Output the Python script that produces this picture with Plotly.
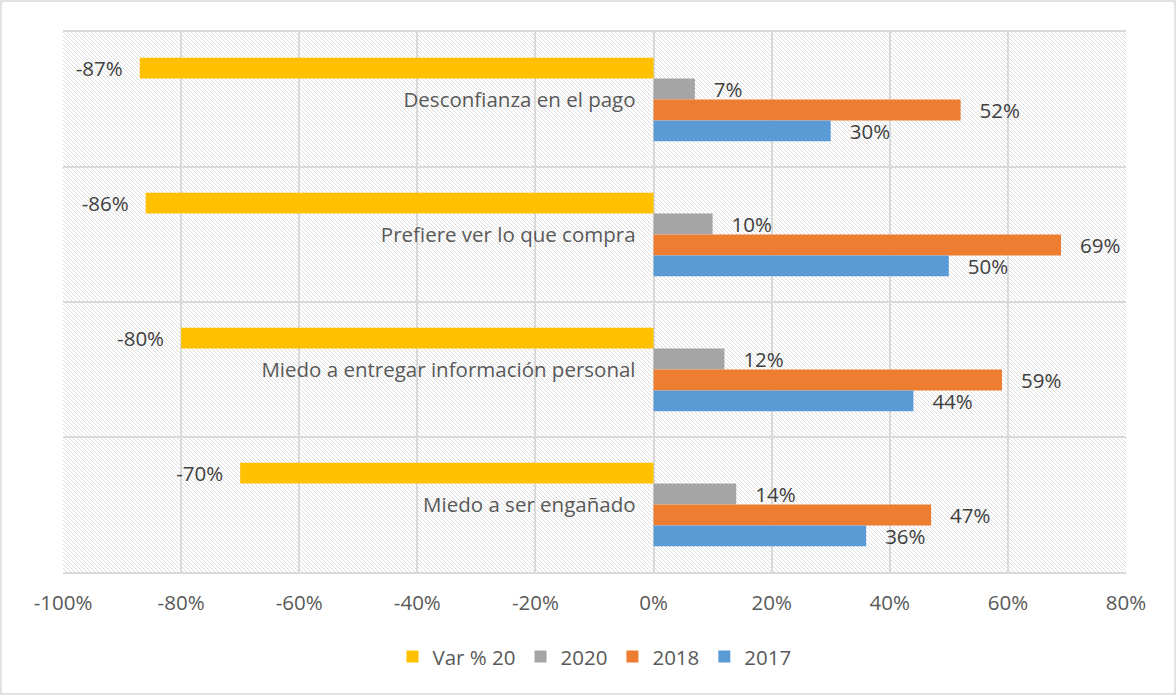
import base64
import plotly.graph_objects as go

categories = ["Desconfianza en el pago", "Prefiere ver lo que compra",
              "Miedo a entregar información personal", "Miedo a ser engañado"]
series_names = ["Var % 20", "2020", "2018", "2017"]
var_20 = [-87, -86, -80, -70]
y2020 = [7, 10, 12, 14]
y2018 = [52, 69, 59, 47]
y2017 = [30, 50, 44, 36]
colors = ["#FFC000", "#A5A5A5", "#ED7D31", "#5B9BD5"]
x_ticks = [-100, -80, -60, -40, -20, 0, 20, 40, 60, 80]
x_tick_text = [f"{v}%" for v in x_ticks]

W, H = 1176, 695
ML, MR, MT, MB = 63, 50, 32, 123
PW, PH = W - ML - MR, H - MT - MB
FONT = "Open Sans"
FS = 20.5
NB = "\u00a0"

fig = go.Figure()
for name, vals, col in zip(series_names, [var_20, y2020, y2018, y2017], colors):
    tt = [f"{v}%{NB*2}\u2009" if v < 0 else f"{NB*3}{v}%" for v in vals]
    fig.add_trace(go.Bar(
        name=name, y=categories, x=vals, orientation="h",
        marker=dict(color=col, line=dict(width=0)),
        text=tt, textposition="outside", constraintext="none", cliponaxis=False,
        textfont=dict(family=FONT, size=FS, color="#404040"),
        hoverinfo="x+y",
    ))

# hatched plot background as an SVG image
svg = f'''<svg xmlns="http://www.w3.org/2000/svg" width="{PW}" height="{PH}" viewBox="0 0 {PW} {PH}" preserveAspectRatio="none">
<defs><pattern id="h" width="4" height="4" patternUnits="userSpaceOnUse">
<path d="M-1,-1 L5,5 M-1,3 L1,5 M3,-1 L5,1" stroke="#dedede" stroke-width="1"/>
</pattern></defs>
<rect width="{PW}" height="{PH}" fill="white"/>
<rect width="{PW}" height="{PH}" fill="url(#h)"/>
</svg>'''
src = "data:image/svg+xml;base64," + base64.b64encode(svg.encode()).decode()

fig.update_layout(
    width=W, height=H,
    margin=dict(l=ML, r=MR, t=MT, b=MB),
    paper_bgcolor="white", plot_bgcolor="white",
    barmode="group", bargap=0.38, bargroupgap=0,
    font=dict(family=FONT, size=FS, color="#595959"),
    images=[dict(source=src, xref="paper", yref="paper", x=0, y=1,
                 sizex=1, sizey=1, sizing="stretch", layer="below",
                 xanchor="left", yanchor="top")],
    legend=dict(orientation="h", x=0.5, xanchor="center", y=-0.157, yanchor="middle",
                font=dict(family=FONT, size=FS, color="#595959"),
                traceorder="normal", itemwidth=30),
    shapes=[dict(type="rect", xref="paper", yref="paper",
                 x0=(1 - ML) / PW, x1=(W - 1 - ML) / PW,
                 y0=-(H - 1 - MT - PH) / PH, y1=1 + (MT - 1) / PH,
                 line=dict(color="#d9d9d9", width=1.5), layer="below")],
    xaxis=dict(range=[-100, 80], tickvals=x_ticks, ticktext=x_tick_text,
               showgrid=True, gridcolor="#d9d9d9", gridwidth=1.5,
               zeroline=False, showline=True, mirror=True,
               linecolor="#d9d9d9", linewidth=1.5,
               ticks="outside", ticklen=12, tickcolor="rgba(0,0,0,0)",
               tickfont=dict(family=FONT, size=FS, color="#595959")),
    yaxis=dict(type="category", autorange="reversed", tickson="boundaries",
               anchor="free", position=100 / 180,
               showgrid=True, gridcolor="#d9d9d9", gridwidth=1.5,
               zeroline=False, showline=False,
               ticks="outside", ticklen=0, ticklabelstandoff=18,
               tickfont=dict(family=FONT, size=FS, color="#595959")),
)

fig.write_html("out.html", config={"displayModeBar": False},
               post_script="document.body.style.margin='0';")
